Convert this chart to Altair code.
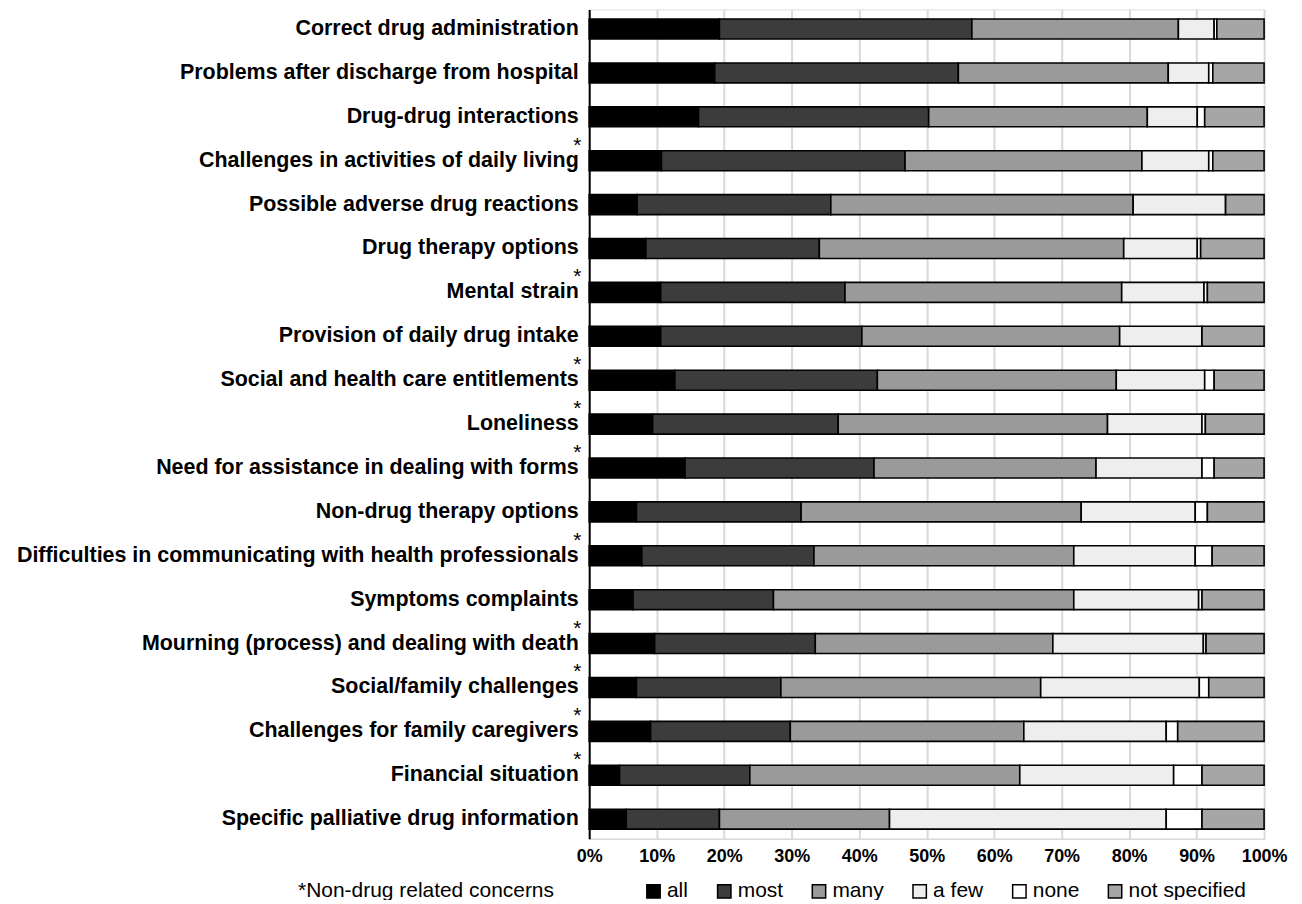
import altair as alt
import pandas as pd

categories = [
    "Correct drug administration",
    "Problems after discharge from hospital",
    "Drug-drug interactions",
    "Challenges in activities of daily living",
    "Possible adverse drug reactions",
    "Drug therapy options",
    "Mental strain",
    "Provision of daily drug intake",
    "Social and health care entitlements",
    "Loneliness",
    "Need for assistance in dealing with forms",
    "Non-drug therapy options",
    "Difficulties in communicating with health professionals",
    "Symptoms complaints",
    "Mourning (process) and dealing with death",
    "Social/family challenges",
    "Challenges for family caregivers",
    "Financial situation",
    "Specific palliative drug information",
]
non_drug = [0, 0, 0, 1, 0, 0, 1, 0, 1, 1, 1, 0, 1, 0, 1, 1, 1, 1, 0]

segments = ["all", "most", "many", "a few", "none", "not specified"]
seg_colors = ["#000000", "#3c3c3c", "#9a9a9a", "#eeeeee", "#ffffff", "#a6a6a6"]

v_all = [19.3, 18.6, 16.2, 10.7, 7.1, 8.4, 10.6, 10.6, 12.7, 9.4, 14.2, 7.0, 7.8, 6.5, 9.7, 7.0, 9.1, 4.5, 5.5]
v_most = [37.4, 36.1, 34.1, 36.1, 28.7, 25.7, 27.3, 29.8, 30.0, 27.5, 28.0, 24.4, 25.5, 20.8, 23.8, 21.4, 20.7, 19.3, 13.8]
v_many = [30.6, 31.1, 32.4, 35.1, 44.8, 45.1, 41.0, 38.2, 35.4, 39.9, 32.9, 41.5, 38.5, 44.5, 35.2, 38.5, 34.6, 40.0, 25.2]
v_afew = [5.3, 6.0, 7.4, 9.9, 13.7, 10.9, 12.2, 12.2, 13.1, 14.0, 15.7, 16.9, 18.0, 18.5, 22.3, 23.5, 21.1, 22.8, 41.0]
v_none = [0.4, 0.6, 1.1, 0.6, 0.0, 0.5, 0.5, 0.0, 1.4, 0.5, 1.8, 1.8, 2.5, 0.5, 0.4, 1.4, 1.7, 4.2, 5.3]
v_ns = [7.0, 7.6, 8.8, 7.6, 5.7, 9.4, 8.4, 9.2, 7.4, 8.7, 7.4, 8.4, 7.7, 9.2, 8.6, 8.2, 12.8, 9.2, 9.2]

footnote = "*Non-drug related concerns"
tick_values = [0, 10, 20, 30, 40, 50, 60, 70, 80, 90, 100]

series = [v_all, v_most, v_many, v_afew, v_none, v_ns]
rows = []
for i, cat in enumerate(categories):
    for k, seg in enumerate(segments):
        rows.append({"category": cat, "segment": seg, "idx": k, "value": series[k][i]})
df = pd.DataFrame(rows)

star_df = pd.DataFrame({"category": [c for c, f in zip(categories, non_drug) if f]})
note_df = pd.DataFrame({"text": [footnote]})

FONT = "Liberation Sans"

bars = alt.Chart(df).mark_bar(stroke="black", strokeWidth=1.6).encode(
    y=alt.Y("category:N", sort=categories, title=None,
            scale=alt.Scale(paddingInner=0.545, paddingOuter=0.22),
            axis=alt.Axis(labelFont=FONT, labelFontWeight="bold", labelFontSize=21.5,
                          labelColor="black", labelPadding=11, labelLimit=1000,
                          ticks=False, domain=True, domainColor="black", domainWidth=2,
                          grid=False)),
    x=alt.X("value:Q", stack="zero", title=None,
            scale=alt.Scale(domain=[0, 100], nice=False),
            axis=alt.Axis(values=tick_values, labelExpr="datum.value + '%'",
                          labelFont=FONT, labelFontWeight="bold", labelFontSize=18,
                          labelColor="black", labelPadding=9, labelOverlap=False,
                          labelFlush=False,
                          ticks=False, domain=True, domainColor="#d9d9d9", domainWidth=1.5,
                          grid=True, gridColor="#d9d9d9", gridWidth=2)),
    color=alt.Color("segment:N", sort=segments,
                    scale=alt.Scale(domain=segments, range=seg_colors),
                    legend=alt.Legend(title=None, orient="none", direction="horizontal",
                                      legendX=54, legendY=874,
                                      symbolType="square", symbolSize=180,
                                      symbolStrokeColor="black", symbolStrokeWidth=1.5,
                                      labelFont=FONT, labelFontSize=21, labelColor="black",
                                      labelOffset=3, columnPadding=25)),
    order=alt.Order("idx:Q", sort="ascending"),
)

stars = alt.Chart(star_df).mark_text(text="*", font=FONT, fontSize=21, align="center",
                                     baseline="middle", dy=-15, color="black").encode(
    y=alt.Y("category:N", sort=categories),
    x=alt.value(-12),
)

note = alt.Chart(note_df).mark_text(font=FONT, fontSize=21, align="left",
                                    baseline="middle", color="black").encode(
    text="text:N",
    x=alt.value(-292),
    y=alt.value(884),
)

chart = alt.layer(bars, stars, note).properties(
    width=677, height=832,
    autosize=alt.AutoSizeParams(type="none"),
    padding={"left": 583, "top": 0, "right": 30, "bottom": 60},
).configure_view(stroke=None).configure(font=FONT)

chart.save("out.html", embed_options={"renderer": "svg", "actions": False})
